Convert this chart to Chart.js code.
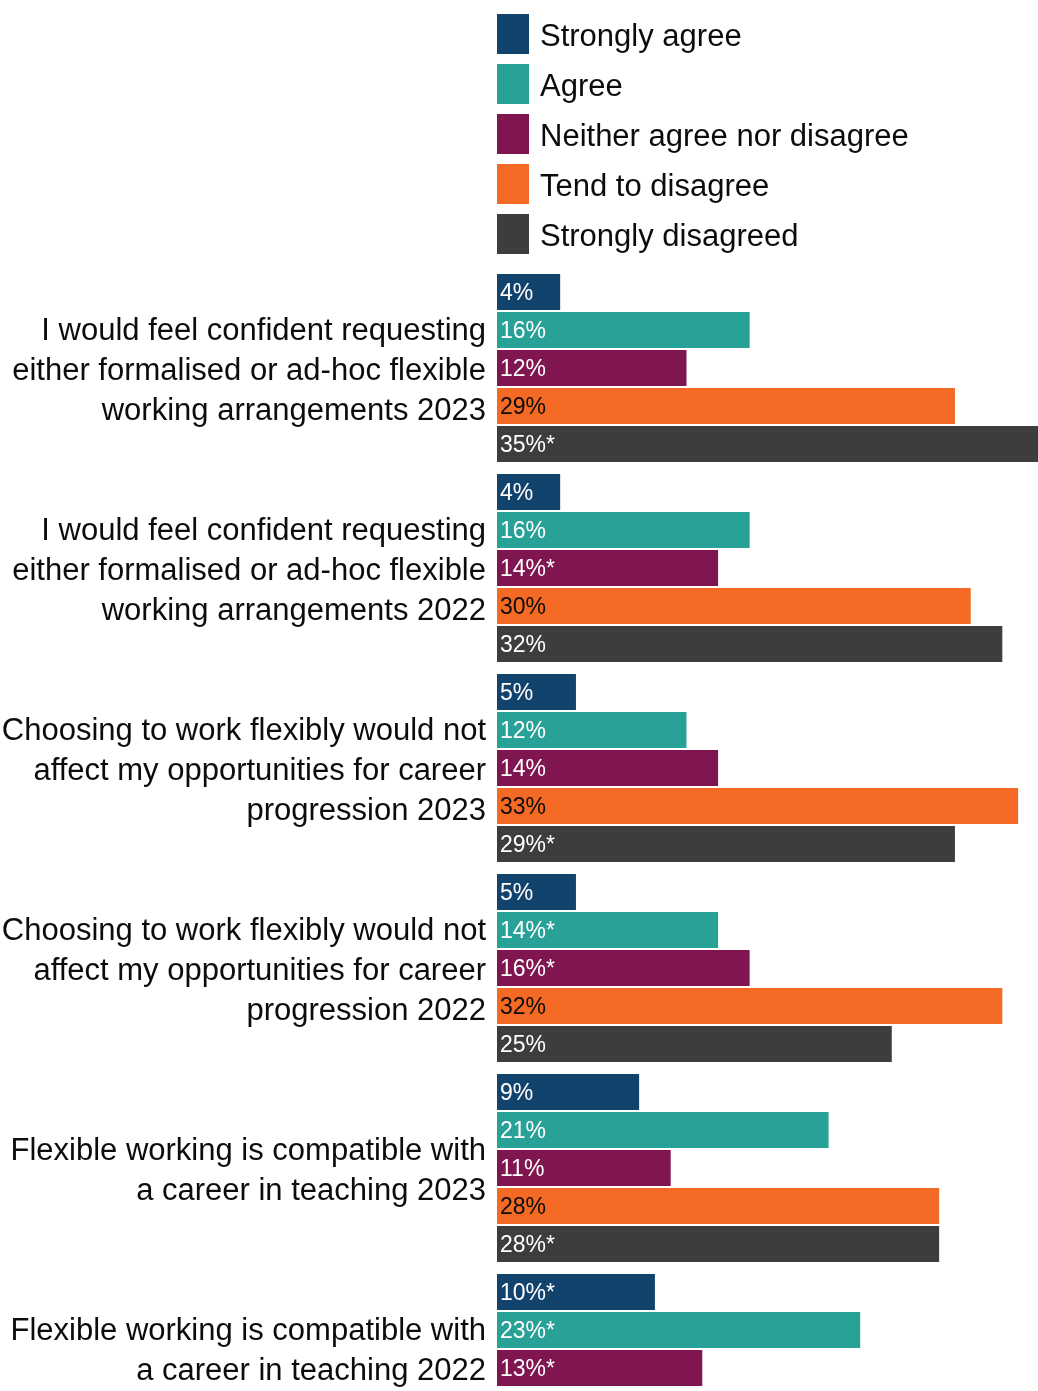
<!DOCTYPE html>
<html>
<head>
<meta charset="utf-8">
<title>Flexible working</title>
<script src="https://cdn.jsdelivr.net/npm/chart.js@4.4.0/dist/chart.umd.min.js"></script>
<style>
html, body { margin: 0; padding: 0; background: #fff; overflow: hidden; }
#frame { width: 1038px; height: 1391px; overflow: hidden; }
canvas { display: block; }
</style>
</head>
<body>
<div id="frame"><canvas id="myChart" width="1038" height="1468"></canvas></div>
<script>
var FONT = '"Liberation Sans", Arial, sans-serif';
var INK = '#0b0c0c';

// the last label gets a blank third line so it sits a little higher
var categories = [
  ['I would feel confident requesting', 'either formalised or ad-hoc flexible', 'working arrangements 2023'],
  ['I would feel confident requesting', 'either formalised or ad-hoc flexible', 'working arrangements 2022'],
  ['Choosing to work flexibly would not', 'affect my opportunities for career', 'progression 2023'],
  ['Choosing to work flexibly would not', 'affect my opportunities for career', 'progression 2022'],
  ['Flexible working is compatible with', 'a career in teaching 2023'],
  ['Flexible working is compatible with', 'a career in teaching 2022', '']
];

// percentages per response, one entry per statement
var stronglyAgree     = [4, 4, 5, 5, 9, 10];
var agree             = [16, 16, 12, 14, 21, 23];
var neither           = [12, 14, 14, 16, 11, 13];
var tendToDisagree    = [29, 30, 33, 32, 28, 27];
var stronglyDisagreed = [35, 32, 29, 25, 28, 24];

// 1 = significant change between years, shown with *
var starStronglyAgree     = [0, 0, 0, 0, 0, 1];
var starAgree             = [0, 0, 0, 1, 0, 1];
var starNeither           = [0, 1, 0, 1, 0, 1];
var starTendToDisagree    = [0, 0, 0, 0, 0, 0];
var starStronglyDisagreed = [1, 0, 1, 0, 1, 0];

var series = [
  { label: 'Strongly agree', data: stronglyAgree, stars: starStronglyAgree, color: '#12436d', text: '#ffffff' },
  { label: 'Agree', data: agree, stars: starAgree, color: '#28a197', text: '#ffffff' },
  { label: 'Neither agree nor disagree', data: neither, stars: starNeither, color: '#801650', text: '#ffffff' },
  { label: 'Tend to disagree', data: tendToDisagree, stars: starTendToDisagree, color: '#f46a25', text: INK },
  { label: 'Strongly disagreed', data: stronglyDisagreed, stars: starStronglyDisagreed, color: '#3d3d3d', text: '#ffffff' }
];

// legend as a vertical list above the bars
var legendList = {
  id: 'legendList',
  afterDraw: function(chart) {
    var ctx = chart.ctx;
    var x = chart.chartArea.left;
    ctx.save();
    ctx.font = '31px ' + FONT;
    ctx.textBaseline = 'alphabetic';
    ctx.textAlign = 'left';
    chart.data.datasets.forEach(function(ds, i) {
      var y = 14 + i * 50;
      ctx.fillStyle = ds.backgroundColor;
      ctx.fillRect(x, y, 32, 40);
      ctx.fillStyle = INK;
      ctx.fillText(ds.label, x + 43, y + 32);
    });
    ctx.restore();
  }
};

// value labels inside the start of each bar
var barLabels = {
  id: 'barLabels',
  afterDatasetsDraw: function(chart) {
    var ctx = chart.ctx;
    ctx.save();
    ctx.font = '23px ' + FONT;
    ctx.textAlign = 'left';
    ctx.textBaseline = 'alphabetic';
    chart.data.datasets.forEach(function(ds, i) {
      chart.getDatasetMeta(i).data.forEach(function(bar, j) {
        var txt = ds.data[j] + '%' + (ds.stars[j] ? '*' : '');
        ctx.fillStyle = ds.textColor;
        ctx.fillText(txt, bar.base + 3, bar.y + 8);
      });
    });
    ctx.restore();
  }
};

var ctx = document.getElementById('myChart').getContext('2d');
var myChart = new Chart(ctx, {
  type: 'bar',
  data: {
    labels: categories,
    datasets: series.map(function(s) {
      return {
        label: s.label,
        data: s.data,
        stars: s.stars,
        textColor: s.text,
        backgroundColor: s.color,
        borderWidth: 0,
        categoryPercentage: 0.95,
        barPercentage: 0.947,
        // bars stop a little above the page edge
        clip: { left: 0, top: 0, right: 0, bottom: -81 }
      };
    })
  },
  options: {
    indexAxis: 'y',
    responsive: false,
    animation: false,
    layout: { padding: { top: 268, left: 0, right: 0, bottom: 0 } },
    plugins: {
      legend: { display: false },
      tooltip: { enabled: false }
    },
    scales: {
      x: {
        display: false,
        min: 0,
        max: 34.26
      },
      y: {
        grid: { display: false, drawTicks: false },
        border: { display: false },
        ticks: {
          autoSkip: false,
          padding: 11,
          labelOffset: 3,
          color: INK,
          font: { family: FONT, size: 31, lineHeight: 1.29 }
        },
        afterFit: function(scale) {
          scale.width = 497;
          // let the tall labels hang over the ends instead of shrinking the plot
          scale.paddingTop = 0;
          scale.paddingBottom = 0;
        }
      }
    }
  },
  plugins: [legendList, barLabels]
});
</script>
</body>
</html>
